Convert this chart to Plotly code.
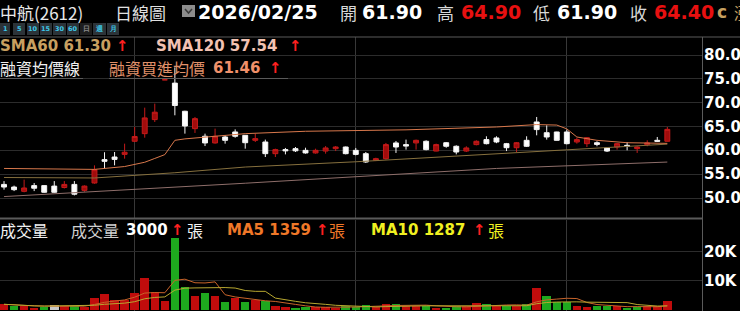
import plotly.graph_objects as go
import pandas as pd

W, H = 740, 311

# ---------------- data ----------------
opens = [52.85, 52.3, 51.4, 52.6, 52.6, 52.5, 52.2, 52.85, 51.6, 53.15,
         58.05, 58.6, 59.15, 61.9, 63.5, 66.45, 74.8, 74.1, 68.2, 64.55,
         62.95, 61.55, 62.8, 63.85, 63.15, 62.1, 61.75, 59.3, 60.15, 60.35,
         60.0, 59.45, 59.85, 60.35, 60.7, 60.0, 59.3, 57.9, 58.25, 61.55,
         61.2, 61.55, 61.9, 59.85, 61.6, 60.85, 59.85, 61.2, 62.25, 62.6,
         61.4, 60.55, 62.1, 65.95, 63.7, 63.85, 63.85, 61.75, 61.4, 61.6,
         60.5, 60.7, 61.05, 60.35, 61.2, 62.1, 61.9]
highs = [53.55, 52.6, 53.85, 53.15, 52.7, 53.55, 53.55, 53.55, 52.65, 56.85,
         59.6, 59.65, 61.4, 64.9, 68.95, 69.8, 74.8, 77.4, 68.3, 67.0,
         63.5, 64.55, 63.15, 64.4, 63.2, 63.5, 62.25, 60.35, 60.5, 60.7,
         60.55, 60.35, 60.9, 60.9, 60.8, 60.5, 59.65, 58.45, 61.55, 61.95,
         62.25, 62.25, 62.1, 61.4, 61.75, 61.05, 60.85, 62.1, 62.95, 62.95,
         61.55, 61.75, 62.95, 67.0, 65.25, 63.9, 64.35, 62.65, 62.8, 61.9,
         60.7, 61.55, 61.75, 60.85, 62.1, 62.8, 64.9]
lows = [51.75, 51.45, 51.2, 51.45, 51.1, 51.1, 52.0, 50.55, 51.3, 53.0,
        56.15, 56.85, 58.25, 61.75, 62.65, 65.95, 74.8, 67.35, 63.5, 63.65,
        60.9, 61.4, 61.4, 62.65, 60.35, 61.75, 58.6, 58.6, 59.15, 59.65,
        59.3, 59.3, 59.3, 59.85, 59.15, 58.95, 57.35, 57.75, 58.05, 59.45,
        60.15, 60.15, 60.0, 59.8, 60.55, 59.15, 59.65, 61.05, 61.25, 61.5,
        59.85, 59.65, 60.7, 63.15, 62.25, 62.05, 61.25, 61.4, 60.7, 60.85,
        59.65, 60.15, 60.0, 59.45, 60.85, 61.75, 61.9]
closes = [52.3, 51.75, 52.1, 52.05, 51.2, 51.2, 52.85, 50.8, 52.5, 55.95,
          57.7, 58.1, 59.6, 62.9, 66.8, 68.0, 74.8, 69.4, 65.1, 66.65,
          61.55, 62.95, 62.1, 62.95, 61.6, 62.45, 59.3, 60.15, 59.9, 59.9,
          59.45, 60.0, 60.5, 60.7, 59.3, 59.15, 57.55, 58.25, 61.2, 60.7,
          60.9, 62.1, 60.15, 61.2, 60.85, 59.65, 60.5, 61.9, 61.4, 61.75,
          60.55, 61.6, 60.85, 64.35, 62.8, 62.1, 61.4, 62.25, 62.65, 61.25,
          59.85, 61.4, 60.85, 60.7, 61.55, 61.9, 64.4]
# volume in lots (張)
volumes = [1860, 1380, 1380, 690, 930, 1620, 1170, 1380, 930, 3930,
           5310, 3340, 3340, 5660, 11030, 6210, 3000, 24700, 7720, 4830,
           5860, 4830, 2550, 3930, 2550, 3340, 3000, 1380, 930, 480,
           930, 930, 930, 690, 1170, 930, 1620, 1030, 1860, 1860,
           1380, 1380, 1380, 690, 480, 1170, 1170, 2310, 1860, 1380,
           1380, 1380, 1860, 7590, 4720, 2760, 2760, 1380, 830, 1170,
           1380, 1170, 690, 930, 1170, 1170, 3000]
# r = up, g = down, n = unchanged (vs previous close)
vol_dir = list("rgrrgnrgrrrrrrrrrggrgrgrgrgrrggrrrggg"
               "rrgrrgrggrrgrgrgrgggrrggrggrrr")

# margin purchase average price line (融資買進均價) : (day index, value)
margin_x = [0, 9, 12, 14, 15, 16, 17, 18, 24, 30, 40, 49, 53, 55, 56, 57, 59, 62, 66]
margin_y = [56.2, 56.0, 56.6, 57.5, 58.3, 59.1, 62.1, 62.4, 63.5, 64.0, 64.3, 64.9,
            65.4, 65.3, 64.5, 62.8, 62.1, 61.6, 61.46]
# SMA60 line
sma60_x = [0, 9, 17, 24, 35, 49, 66]
sma60_y = [54.3, 54.2, 55.3, 56.5, 57.6, 59.3, 61.30]
# SMA120 line
sma120_x = [0, 24, 49, 66]
sma120_y = [50.3, 53.1, 56.2, 57.54]

price_ticks = [50, 55, 60, 65, 70, 75, 80]
vol_ticks = [10000, 20000]
vol_tick_text = ["10K", "20K"]
month_start_idx = [13, 35, 56]

days = list(range(len(opens)))

# ---------------- helpers ----------------
def xp(x):
    return x / W


def yp(y):
    return 1 - y / H


CJK = "Noto Sans CJK TC, Noto Sans CJK SC, sans-serif"
BOLD = "DejaVu Sans, Verdana, sans-serif"

fig = go.Figure()

fig.add_trace(go.Candlestick(
    x=days, open=opens, high=highs, low=lows, close=closes,
    increasing=dict(line=dict(color="#c41a1a", width=1), fillcolor="#a00c0c"),
    decreasing=dict(line=dict(color="#f4f4f4", width=1), fillcolor="#ffffff"),
    whiskerwidth=0, xaxis="x", yaxis="y", hoverinfo="skip", showlegend=False))

fig.add_trace(go.Scatter(x=sma120_x, y=sma120_y, mode="lines",
                         line=dict(color="#8e6e6a", width=1), xaxis="x", yaxis="y",
                         hoverinfo="skip", showlegend=False))
fig.add_trace(go.Scatter(x=sma60_x, y=sma60_y, mode="lines",
                         line=dict(color="#86703e", width=1), xaxis="x", yaxis="y",
                         hoverinfo="skip", showlegend=False))
fig.add_trace(go.Scatter(x=margin_x, y=margin_y, mode="lines",
                         line=dict(color="#d8784c", width=1), xaxis="x", yaxis="y",
                         hoverinfo="skip", showlegend=False))

cmap = {"r": "#c00c0c", "g": "#1ea81e", "n": "#c8c8c8"}
fig.add_trace(go.Bar(x=days, y=volumes, marker=dict(color=[cmap[c] for c in vol_dir],
                                                    line=dict(width=0)),
                     width=0.85, xaxis="x2", yaxis="y2", hoverinfo="skip",
                     showlegend=False))
vs = pd.Series(volumes)
ma5 = vs.rolling(5, min_periods=1).mean()
ma10 = vs.rolling(10, min_periods=1).mean()
fig.add_trace(go.Scatter(x=days, y=ma5, mode="lines", line=dict(color="#c8642a", width=1),
                         xaxis="x2", yaxis="y2", hoverinfo="skip", showlegend=False))
fig.add_trace(go.Scatter(x=days, y=ma10, mode="lines", line=dict(color="#b8a830", width=1),
                         xaxis="x2", yaxis="y2", hoverinfo="skip", showlegend=False))

# ---------------- axes ----------------
px_per_unit = (198 - 55) / 30.0
p_top = 80 + (55 - 37) / px_per_unit
p_bot = 50 - (218 - 198) / px_per_unit
x_rng = [-0.4, (702 / 10.05) - 0.4]
xdom = [0, 702 / W]

vol_px = 2.9 / 1000.0
v_zero_y = 309.7
v_top = (v_zero_y - 220) / vol_px
v_bot = -(311 - v_zero_y) / vol_px

common_x = dict(range=x_rng, domain=xdom, showticklabels=False, tickvals=month_start_idx,
                showgrid=True, gridcolor="#383838", gridwidth=1, zeroline=False,
                showline=False, ticks="", fixedrange=True)
fig.update_layout(
    width=W, height=H, margin=dict(l=0, r=0, t=0, b=0),
    paper_bgcolor="#000000", plot_bgcolor="#000000",
    xaxis=dict(**common_x, anchor="y", rangeslider=dict(visible=False)),
    xaxis2=dict(**common_x, anchor="y2"),
    yaxis=dict(domain=[yp(218), yp(37)], range=[p_bot, p_top], tickvals=price_ticks,
               showticklabels=False, showgrid=True, gridcolor="#2c2c2c", zeroline=False,
               fixedrange=True),
    yaxis2=dict(domain=[0, yp(220)], range=[v_bot, v_top], tickvals=vol_ticks,
                showticklabels=False, showgrid=True, gridcolor="#2c2c2c", zeroline=False,
                fixedrange=True),
    bargap=0, showlegend=False,
)

# ---------------- shapes ----------------
shapes = []
def hline(y, x0, x1, color="#5c5c5c", w=1):
    shapes.append(dict(type="line", xref="paper", yref="paper", x0=xp(x0), x1=xp(x1),
                       y0=yp(y), y1=yp(y), line=dict(color=color, width=w)))

hline(37, 0, 740, "#5a5a5a", 1)
hline(218.5, 0, 703, "#5a5a5a", 2)
hline(78.5, 0, 83, "#5a5a5a", 1)
hline(78.5, 109, 288, "#5a5a5a", 1)
shapes.append(dict(type="line", xref="paper", yref="paper", x0=xp(702.5), x1=xp(702.5),
                   y0=yp(37), y1=0, line=dict(color="#5a5a5a", width=1)))
# dropdown icon
shapes.append(dict(type="rect", xref="paper", yref="paper", x0=xp(182), x1=xp(195),
                   y0=yp(17), y1=yp(5), fillcolor="#8c8c8c", line=dict(width=0)))
shapes.append(dict(type="path", xref="paper", yref="paper",
                   path=f"M {xp(185)} {yp(9)} L {xp(188.5)} {yp(13)} L {xp(192)} {yp(9)}",
                   line=dict(color="#3a3a3a", width=1.5)))
# period buttons
buttons = [(0, 10, "1"), (13, 25, "5"), (27, 39, "10"), (40, 52, "15"), (53, 66, "30"),
           (67, 79, "60"), (80, 92, "日"), (93, 106, "週"), (107, 119, "月")]
for x0, x1, t in buttons:
    shapes.append(dict(type="rect", xref="paper", yref="paper", x0=xp(x0), x1=xp(x1),
                       y0=yp(35), y1=yp(23),
                       fillcolor="#1e1e1e" if t == "日" else "#2c3338",
                       line=dict(width=0)))
fig.update_layout(shapes=shapes)

# ---------------- texts ----------------
ann = []
def txt(x, y, s, color="#ffffff", size=15, family=BOLD, weight="normal", anchor="left"):
    ann.append(dict(x=xp(x), y=yp(y), xref="paper", yref="paper", text=s, showarrow=False,
                    xanchor=anchor, yanchor="middle", borderpad=0,
                    font=dict(color=color, size=size, family=family, weight=weight)))

# header
txt(-1, 12, "中航(2612)", "#e8e8e8", 17, CJK)
txt(114, 12, "日線圖", "#e0e0e0", 17, CJK)
txt(197, 12, "2026/02/25", "#ffffff", 19, BOLD, "bold")
txt(339, 12, "開", "#d8d8d8", 17, CJK)
txt(361, 12, "61.90", "#ffffff", 19, BOLD, "bold")
txt(436, 12, "高", "#d8d8d8", 17, CJK)
txt(460, 12, "64.90", "#e81010", 19, BOLD, "bold")
txt(532, 12, "低", "#d8d8d8", 17, CJK)
txt(556, 12, "61.90", "#ffffff", 19, BOLD, "bold")
txt(629, 12, "收", "#d8d8d8", 17, CJK)
txt(653, 12, "64.40", "#e81010", 19, BOLD, "bold")
txt(716, 12, "c", "#c8a060", 17, BOLD, "bold")
txt(733, 12, "漲", "#c8a060", 17, CJK)
for x0, x1, t in buttons:
    txt((x0 + x1) / 2, 29, t, "#8a8a8a" if t == "日" else "#3cc8e8", 6.5, BOLD, "bold", "center")

# price legend
txt(-1, 46, "SMA60 61.30", "#c8a060", 15, BOLD, "bold")
txt(115, 46, "↑", "#ff2020", 15, BOLD, "bold")
txt(155, 46, "SMA120 57.54", "#f2c2b2", 15, BOLD, "bold")
txt(288, 46, "↑", "#ff2020", 15, BOLD, "bold")
txt(-1, 68, "融資均價線", "#f0f0f0", 16, CJK)
txt(108, 68, "融資買進均價", "#e0906a", 16, CJK)
txt(212, 68, "61.46", "#f0906a", 15, BOLD, "bold")
txt(268, 68, "↑", "#ff2020", 15, BOLD, "bold")

# volume legend
txt(-1, 230, "成交量", "#f0f0f0", 16, CJK)
txt(70, 230, "成交量", "#d0d0d0", 16, CJK)
txt(125, 230, "3000", "#ffffff", 15, BOLD, "bold")
txt(170, 230, "↑", "#ff2020", 15, BOLD, "bold")
txt(186, 230, "張", "#f0f0f0", 16, CJK)
txt(226, 230, "MA5 1359", "#f07828", 15, BOLD, "bold")
txt(315, 230, "↑", "#ff2020", 15, BOLD, "bold")
txt(328, 230, "張", "#f07828", 16, CJK)
txt(370, 230, "MA10 1287", "#f0f020", 15, BOLD, "bold")
txt(472, 230, "↑", "#ff2020", 15, BOLD, "bold")
txt(487, 230, "張", "#f0f020", 16, CJK)

# axis tick labels (right side)
for v in price_ticks:
    ann.append(dict(x=xp(703), y=v, xref="paper", yref="y", text=f"{v:.2f}",
                    showarrow=False, xanchor="left", yanchor="middle", borderpad=0,
                    font=dict(color="#ffffff", size=15, family=BOLD, weight="bold")))
for v, t in zip(vol_ticks, vol_tick_text):
    ann.append(dict(x=xp(703), y=v, xref="paper", yref="y2", text=t,
                    showarrow=False, xanchor="left", yanchor="middle", borderpad=0,
                    font=dict(color="#ffffff", size=15, family=BOLD, weight="bold")))

fig.update_layout(annotations=ann)
fig.write_html("out.html")
